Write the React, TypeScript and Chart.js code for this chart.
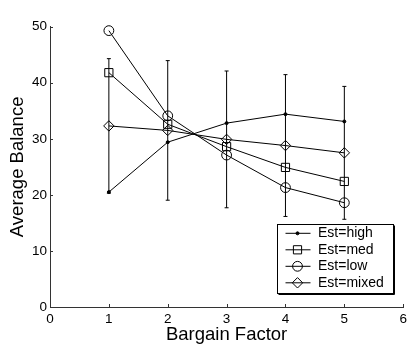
import React, { useEffect, useRef } from 'react';
import { Chart, registerables } from 'chart.js';

Chart.register(...registerables);

const bargainFactors = [1, 2, 3, 4, 5];
const estHigh = [20.5, 29.4, 32.8, 34.4, 33.1];
const estMed = [41.8, 32.6, 28.6, 24.9, 22.4];
const estLow = [49.3, 34.1, 27.1, 21.3, 18.6];
const estMixed = [32.3, 31.5, 29.9, 28.8, 27.5];
const estMixedErr = [12.0, 12.45, 12.2, 12.65, 11.85];
const seriesLabels = ['Est=high', 'Est=med', 'Est=low', 'Est=mixed'];
const xTickValues = [0, 1, 2, 3, 4, 5, 6];
const yTickValues = [0, 10, 20, 30, 40, 50];

const FONT = '"Liberation Sans", Arial, Helvetica, sans-serif';

const pts = (ys: number[]) => bargainFactors.map((x, i) => ({ x, y: ys[i] }));

function drawMarker(ctx: CanvasRenderingContext2D, style: string, r: number, x: number, y: number, filled: boolean) {
  ctx.beginPath();
  if (style === 'circle') {
    ctx.arc(x, y, r, 0, Math.PI * 2);
  } else if (style === 'rect') {
    const s = r * Math.SQRT1_2;
    ctx.rect(x - s, y - s, 2 * s, 2 * s);
  } else if (style === 'rectRot') {
    ctx.moveTo(x - r, y);
    ctx.lineTo(x, y - r);
    ctx.lineTo(x + r, y);
    ctx.lineTo(x, y + r);
    ctx.closePath();
  }
  if (filled) {
    ctx.fillStyle = '#000';
    ctx.fill();
  }
  ctx.stroke();
}

const errorBarPlugin = {
  id: 'errorBars',
  beforeDatasetsDraw(chart: any) {
    const { ctx, scales } = chart;
    const xs = scales.x;
    const ys = scales.y;
    ctx.save();
    ctx.strokeStyle = '#000';
    ctx.lineWidth = 1;
    bargainFactors.forEach((bx, i) => {
      const px = xs.getPixelForValue(bx);
      const top = ys.getPixelForValue(estMixed[i] + estMixedErr[i]);
      const bot = ys.getPixelForValue(estMixed[i] - estMixedErr[i]);
      ctx.beginPath();
      ctx.moveTo(px, top);
      ctx.lineTo(px, bot);
      ctx.moveTo(px - 2, top);
      ctx.lineTo(px + 2, top);
      ctx.moveTo(px - 2, bot);
      ctx.lineTo(px + 2, bot);
      ctx.stroke();
    });
    ctx.restore();
  },
};

const ticksAndLegendPlugin = {
  id: 'ticksAndLegend',
  afterDraw(chart: any) {
    const { ctx, scales, chartArea } = chart;
    const xs = scales.x;
    const ys = scales.y;
    ctx.save();
    ctx.strokeStyle = '#333';
    ctx.lineWidth = 1;
    ctx.beginPath();
    xTickValues.forEach((v) => {
      if (v === 0) return;
      const px = Math.round(xs.getPixelForValue(v)) + 0.5;
      ctx.moveTo(px, chartArea.bottom);
      ctx.lineTo(px, chartArea.bottom - 3);
    });
    yTickValues.forEach((v) => {
      if (v === 0) return;
      const py = Math.round(ys.getPixelForValue(v)) + 0.5;
      ctx.moveTo(chartArea.left, py);
      ctx.lineTo(chartArea.left + 3, py);
    });
    ctx.stroke();

    // legend
    const L = 277.5, T = 224.5, R = 393.5, B = 293.5;
    ctx.fillStyle = '#fff';
    ctx.fillRect(L, T, R - L, B - T);
    ctx.strokeStyle = '#000';
    ctx.lineWidth = 1;
    ctx.strokeRect(L, T, R - L, B - T);
    ctx.beginPath();
    ctx.moveTo(L + 1, B + 1);
    ctx.lineTo(R + 1, B + 1);
    ctx.lineTo(R + 1, T + 1);
    ctx.stroke();

    ctx.font = `14px ${FONT}`;
    ctx.textBaseline = 'middle';
    ctx.textAlign = 'left';
    chart.data.datasets.forEach((ds: any, i: number) => {
      const y = 233.3 + i * 16.5;
      ctx.strokeStyle = '#000';
      ctx.lineWidth = 1;
      ctx.beginPath();
      ctx.moveTo(285.5, y);
      ctx.lineTo(310.5, y);
      ctx.stroke();
      drawMarker(ctx, ds.pointStyle, ds.pointRadius, 297.5, y, ds.pointBackgroundColor === '#000');
      ctx.fillStyle = '#000';
      ctx.fillText(ds.label, 318, y);
    });
    ctx.restore();
  },
};

export default function App() {
  const ref = useRef<HTMLCanvasElement | null>(null);
  useEffect(() => {
    if (!ref.current) return;
    const mk = (label: string, data: number[], style: string, r: number, fill: string) => ({
      label,
      data: pts(data),
      borderColor: '#000',
      borderWidth: 1,
      pointStyle: style,
      pointRadius: r,
      pointHoverRadius: r,
      pointBorderColor: '#000',
      pointBorderWidth: 1,
      pointBackgroundColor: fill,
      fill: false,
      tension: 0,
      clip: false,
    });
    const chart = new Chart(ref.current, {
      type: 'line',
      data: {
        datasets: [
          mk(seriesLabels[0], estHigh, 'circle', 1.5, '#000'),
          mk(seriesLabels[1], estMed, 'rect', 5.8, 'rgba(0,0,0,0)'),
          mk(seriesLabels[2], estLow, 'circle', 4.9, 'rgba(0,0,0,0)'),
          mk(seriesLabels[3], estMixed, 'rectRot', 5.2, 'rgba(0,0,0,0)'),
        ] as any,
      },
      options: {
        animation: false,
        responsive: false,
        layout: { padding: { top: 26.7, right: 2.4, left: 0, bottom: 0 } },
        plugins: { legend: { display: false }, tooltip: { enabled: false } },
        scales: {
          x: {
            type: 'linear',
            min: 0,
            max: 6,
            grid: { display: false, drawTicks: false },
            border: { display: true, color: '#333', width: 1 },
            ticks: {
              stepSize: 1,
              padding: 4,
              color: '#000',
              font: { family: FONT, size: 13.5 },
            },
            title: {
              display: true,
              text: 'Bargain Factor',
              color: '#000',
              font: { family: FONT, size: 18.5 },
              padding: { top: 0, bottom: 2.7 },
            },
            afterFit(scale: any) {
              scale.height = 42;
              scale.paddingLeft = 0;
              scale.paddingRight = 0;
            },
          },
          y: {
            type: 'linear',
            min: 0,
            max: 50,
            grid: { display: false, drawTicks: false },
            border: { display: true, color: '#333', width: 1 },
            ticks: {
              stepSize: 10,
              padding: 3,
              color: '#000',
              font: { family: FONT, size: 13.5 },
            },
            title: {
              display: true,
              text: 'Average Balance',
              color: '#000',
              font: { family: FONT, size: 18.5 },
              padding: { top: 6.5, bottom: 0 },
            },
            afterFit(scale: any) {
              scale.width = 50;
            },
          },
        },
      } as any,
      plugins: [errorBarPlugin, ticksAndLegendPlugin],
    });
    return () => chart.destroy();
  }, []);
  return (
    <div style={{ position: 'fixed', left: 0, top: 0, width: 410, height: 349, background: '#fff' }}>
      <canvas ref={ref} width={410} height={349} style={{ width: 410, height: 349, display: 'block' }} />
    </div>
  );
}
